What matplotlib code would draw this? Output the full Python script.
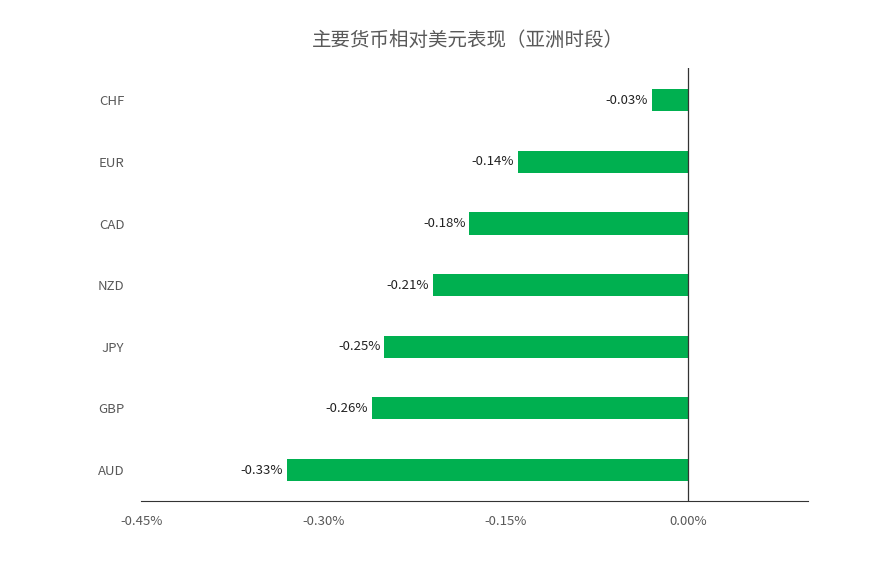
import matplotlib
matplotlib.use("Agg")
import matplotlib.pyplot as plt
from matplotlib.ticker import FuncFormatter

plt.rcParams['font.family'] = ['Noto Sans CJK SC', 'DejaVu Sans']

currencies = ["AUD", "GBP", "JPY", "NZD", "CAD", "EUR", "CHF"]
values = [-0.33, -0.26, -0.25, -0.21, -0.18, -0.14, -0.03]
xticks = [-0.45, -0.30, -0.15, 0.00]
title = "主要货币相对美元表现（亚洲时段）"

fig = plt.figure(figsize=(8.82, 5.64), dpi=100)
ax = fig.add_axes([0.160, 0.112, 0.756, 0.767])
y = list(range(len(currencies)))
ax.barh(y, values, height=0.36, color="#00B050")
for yi, v in zip(y, values):
    ax.text(v - 0.003, yi, f"{v:.2f}%", ha="right", va="center", fontsize=9.5, color="#222222")
ax.set_xlim(-0.45, 0.0987)
ax.set_ylim(-0.5, 6.52)
ax.set_yticks(y)
ax.set_yticklabels(currencies, fontsize=9.5, color="#595959")
ax.set_xticks(xticks)
ax.xaxis.set_major_formatter(FuncFormatter(lambda v, p: f"{v:.2f}%"))
ax.tick_params(axis="x", labelsize=9.5, colors="#595959", length=0, pad=10)
ax.tick_params(axis="y", length=0, pad=12)
for s in ["top", "right", "left"]:
    ax.spines[s].set_visible(False)
ax.spines["bottom"].set_color("#333333")
ax.axvline(0, color="#333333", lw=0.9)
fig.text(0.53, 0.928, title, ha="center", va="center", fontsize=14, color="#595959")
fig.savefig("out.png", dpi=100)
